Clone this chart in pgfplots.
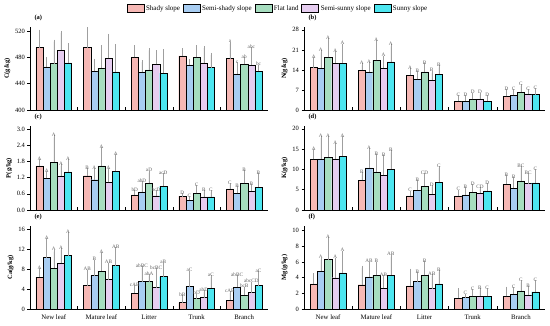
\documentclass[border=0pt]{standalone}
\usepackage{pgfplots}
\pgfplotsset{compat=1.18}
\usepackage{pgfplotstable}
\usepackage{fontspec}
\setmainfont{Liberation Serif}

\definecolor{cA}{RGB}{246,184,181}
\definecolor{cB}{RGB}{168,205,242}
\definecolor{cC}{RGB}{166,221,191}
\definecolor{cD}{RGB}{230,205,240}
\definecolor{cE}{RGB}{77,230,240}

% columns: x, then for each slope: mean, error (upper), letter
\pgfplotstableread{
x y1 e1 l1 y2 e2 l2 y3 e3 l3 y4 e4 l4 y5 e5 l5
0 494.7 24.3 {} 465.3 11.7 {} 470.4 33.4 {} 490.7 26.3 {} 471.4 26.6 {}
1 494.7 27.9 {} 459.0 16.0 {} 463.4 31.6 {} 478.5 34.0 {} 457.8 39.2 {}
2 480.0 15.0 {} 457.0 15.5 {} 461.0 29.7 {} 469.4 18.3 {} 456.0 33.0 {}
3 482.0 8.7 {} 468.4 6.1 {} 480.0 15.0 {} 471.4 22.4 {} 464.3 19.3 {}
4 478.0 22.8 a 454.7 14.7 c 469.4 8.1 ab 468.4 23.6 abc 459.0 6.8 bc
}\tabA
\pgfplotstableread{
x y1 e1 l1 y2 e2 l2 y3 e3 l3 y4 e4 l4 y5 e5 l5
0 14.8 2.9 A 14.6 5.5 A 18.4 5.9 A 16.4 3.4 A 16.4 6.1 A
1 13.9 1.7 A 13.3 2.7 A 17.3 6.3 A 14.6 3.7 A 16.8 5.4 A
2 12.1 1.9 A 10.7 2.1 B 13.3 2.3 B 10.4 2.7 B 12.5 2.4 B
3 3.1 1.5 C 3.1 1.5 D 3.7 1.7 D 3.9 1.5 D 3.1 1.5 D
4 4.8 1.7 D 5.1 1.4 C 6.2 2.1 C 5.6 0.9 C 5.4 1.5 C
}\tabB
\pgfplotstableread{
x y1 e1 l1 y2 e2 l2 y3 e3 l3 y4 e4 l4 y5 e5 l5
0 1.63 0.18 A 1.17 0.21 A 1.77 0.92 A 1.26 0.37 A 1.41 0.40 A
1 1.27 0.21 B 1.12 0.36 A 1.63 0.63 A 1.02 0.46 A 1.43 0.58 A
2 0.56 0.09 bD 0.67 0.32 abD 0.99 0.39 aD 0.53 0.12 bcD 0.88 0.42 acD
3 0.51 0.05 D 0.37 0.06 C 0.62 0.24 C 0.49 0.16 B 0.49 0.16 C
4 0.78 0.15 C 0.62 0.18 B 0.99 0.41 B 0.70 0.18 B 0.85 0.45 B
}\tabC
\pgfplotstableread{
x y1 e1 l1 y2 e2 l2 y3 e3 l3 y4 e4 l4 y5 e5 l5
0 12.5 2.1 A 12.6 5.1 A 13.0 4.7 A 12.6 3.4 A 13.3 4.4 A
1 7.3 1.5 B 10.4 4.4 A 9.4 3.8 B 8.6 4.4 B 10.0 4.2 B
2 3.5 0.8 C 4.9 1.9 B 5.9 2.7 CD 3.9 1.8 D 6.8 3.5 C
3 3.5 1.0 C 3.7 1.4 B 4.4 1.4 D 4.1 1.1 CD 4.7 1.4 D
4 6.4 1.8 B 5.4 2.3 B 7.2 3.1 BC 6.5 2.1 BC 6.7 2.8 C
}\tabD
\pgfplotstableread{
x y1 e1 l1 y2 e2 l2 y3 e3 l3 y4 e4 l4 y5 e5 l5
0 6.4 1.4 A 10.3 3.5 A 8.2 3.3 A 9.2 2.6 A 10.7 4.3 A
1 4.7 2.8 AB 6.7 2.8 B 7.6 3.4 A 5.9 3.0 AB 8.7 3.3 AB
2 3.2 1.2 cAB 5.5 2.7 abBC 5.5 1.1 abA 4.3 3.5 bcBC 6.5 2.4 aB
3 1.3 1.1 bB 4.5 2.8 aC 2.1 0.6 bD 2.3 1.1 abD 4.2 2.2 aC
4 1.8 1.4 cAB 4.4 2.0 abBC 2.8 1.3 bcB 3.3 1.8 abcCD 4.7 2.5 aC
}\tabE
\pgfplotstableread{
x y1 e1 l1 y2 e2 l2 y3 e3 l3 y4 e4 l4 y5 e5 l5
0 3.2 1.1 {} 4.8 1.5 A 6.3 2.6 A 4.0 2.3 A 4.6 2.6 A
1 3.1 2.2 {} 4.1 1.7 AB 4.3 1.5 B 2.65 1.45 AB 4.3 2.4 AB
2 2.95 1.95 {} 3.5 1.0 B 4.3 1.6 B 2.6 1.6 AB 3.2 1.5 B
3 1.4 1.0 {} 1.45 0.25 C 1.6 0.7 C 1.6 0.8 B 1.6 0.8 C
4 1.6 1.0 {} 1.9 0.6 C 2.3 1.1 C 1.8 0.9 B 2.2 1.2 C
}\tabF

\newcommand\oneseries[4]{%
 \addplot[ybar, bar width=0.15, bar shift=0, fill=#3, draw=black, line width=0.35pt, forget plot,
   error bars/.cd, y dir=plus, y explicit,
   error bar style={color=gray!75, line width=0.45pt},
   error mark options={color=gray!75, mark size=2pt, line width=0.45pt}]
   table[x expr=\thisrow{x}+#4, y=y#2, y error=e#2]{#1};
 \addplot[ybar, bar width=0.15, bar shift=0, draw=none, fill=none, forget plot,
   nodes near coords, point meta=explicit symbolic,
   nodes near coords style={font=\fontsize{5.2}{6}\selectfont, text=black!62, inner sep=0.5pt, anchor=south}]
   table[x expr=\thisrow{x}+#4, y expr=\thisrow{y#2}+\thisrow{e#2}, meta=l#2]{#1};
}
\newcommand\allseries[1]{%
 \oneseries{#1}{1}{cA}{-0.30}
 \oneseries{#1}{2}{cB}{-0.15}
 \oneseries{#1}{3}{cC}{0}
 \oneseries{#1}{4}{cD}{0.15}
 \oneseries{#1}{5}{cE}{0.30}
}

\pgfplotsset{panel/.style={
  scale only axis,
  xmin=-0.5, xmax=4.5,
  xtick={0,1,2,3,4}, xticklabels={},
  minor xtick={0.5,1.5,2.5,3.5},
  major x tick style={draw=none},
  minor x tick style={black, line width=0.5pt, yshift=3pt},
  minor tick length=3pt,
  major tick length=2.5pt,
  tick align=outside,
  y tick style={black, line width=0.5pt},
  axis x line*=bottom, axis y line*=left,
  axis line style={-, line width=0.6pt, black},
  /pgf/number format/assume math mode=true,
  ticklabel style={font=\fontsize{6.5}{7}\selectfont},
  yticklabel style={xshift=1pt},
  ylabel style={font=\fontsize{6.5}{7}\selectfont\bfseries, yshift=-2pt},
  title style={at={(0,1)}, anchor=south west, xshift=1pt, yshift=-3pt, font=\fontsize{6.5}{7}\selectfont\bfseries},
  clip=false,
}}

\begin{document}
\begin{tikzpicture}
\useasboundingbox (0pt,0pt) rectangle (550pt,325pt);

% (a)
\begin{axis}[panel, at={(30pt,215pt)}, anchor=south west, width=238pt, height=83pt,
  ymin=400, ymax=526, ytick={400,440,480,520}, ylabel={C(g/kg)}, title={(a)}, clip=true,
  legend style={at={(1.042,1.215)}, anchor=center, legend columns=5, draw=none, fill=none,
    font=\fontsize{7}{8}\selectfont, inner sep=0pt,
    /tikz/every even column/.append style={column sep=0.8pt}},
  legend cell align=left]
\allseries{\tabA}
\addlegendimage{legend image code/.code={\draw[fill=cA, draw=black, line width=0.35pt] (0pt,-3.5pt) rectangle (17pt,4.5pt);}}
\addlegendentry{Shady slope}
\addlegendimage{legend image code/.code={\draw[fill=cB, draw=black, line width=0.35pt] (0pt,-3.5pt) rectangle (17pt,4.5pt);}}
\addlegendentry{Semi-shady slope}
\addlegendimage{legend image code/.code={\draw[fill=cC, draw=black, line width=0.35pt] (0pt,-3.5pt) rectangle (17pt,4.5pt);}}
\addlegendentry{Flat land}
\addlegendimage{legend image code/.code={\draw[fill=cD, draw=black, line width=0.35pt] (0pt,-3.5pt) rectangle (17pt,4.5pt);}}
\addlegendentry{Semi-sunny slope}
\addlegendimage{legend image code/.code={\draw[fill=cE, draw=black, line width=0.35pt] (0pt,-3.5pt) rectangle (17pt,4.5pt);}}
\addlegendentry{Sunny slope}
\end{axis}

% (b)
\begin{axis}[panel, at={(304pt,215pt)}, anchor=south west, width=241pt, height=83pt,
  ymin=0, ymax=29, ytick={0,7,14,21,28}, ylabel={N(g/kg)}, title={(b)}]
\allseries{\tabB}
\end{axis}

% (c)
\begin{axis}[panel, at={(30pt,115pt)}, anchor=south west, width=238pt, height=84pt,
  ymin=0, ymax=3.11, ytick={0,0.6,1.2,1.8,2.4,3.0},
  yticklabel style={/pgf/number format/.cd, fixed, fixed zerofill, precision=1},
  ylabel={P(g/kg)}, title={(c)}]
\allseries{\tabC}
\end{axis}

% (d)
\begin{axis}[panel, at={(304pt,115pt)}, anchor=south west, width=241pt, height=84pt,
  ymin=0, ymax=20.7, ytick={0,5,10,15,20}, ylabel={K(g/kg)}, title={(d)}]
\allseries{\tabD}
\end{axis}

% (e)
\begin{axis}[panel, at={(30pt,16pt)}, anchor=south west, width=238pt, height=83pt,
  ymin=0, ymax=16.6, ytick={0,4,8,12,16}, ylabel={Ca(g/kg)}, title={(e)},
  xticklabels={New leaf, Mature leaf, Litter, Trunk, Branch},
  xticklabel style={font=\fontsize{6.8}{7}\selectfont}]
\allseries{\tabE}
\end{axis}

% (f)
\begin{axis}[panel, at={(304pt,16pt)}, anchor=south west, width=241pt, height=83pt,
  ymin=0, ymax=10.6, ytick={0,2,4,6,8,10}, ylabel={Mg(g/kg)}, title={(f)},
  xticklabels={New leaf, Mature leaf, Litter, Trunk, Branch},
  xticklabel style={font=\fontsize{6.8}{7}\selectfont}]
\allseries{\tabF}
\end{axis}
\end{tikzpicture}
\end{document}
